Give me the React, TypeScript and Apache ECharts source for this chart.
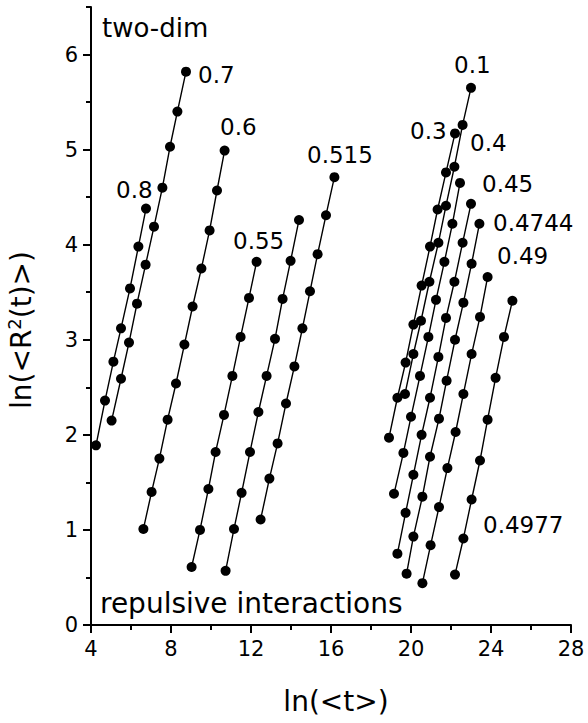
import React, { useEffect, useRef } from "react";
import * as echarts from "echarts";

// ---- data ----
const xTicks = [4, 8, 12, 16, 20, 24, 28];
const yTicks = [0, 1, 2, 3, 4, 5, 6];
const yMinorTicks = [0.5, 1.5, 2.5, 3.5, 4.5, 5.5, 6.5];

const s08X = [4.25, 4.7, 5.12, 5.5, 5.95, 6.37, 6.75];
const s08Y = [1.89, 2.36, 2.77, 3.12, 3.54, 3.98, 4.38];

const s07X = [5.03, 5.5, 5.9, 6.3, 6.73, 7.15, 7.57, 7.95, 8.32, 8.75];
const s07Y = [2.15, 2.59, 2.97, 3.38, 3.79, 4.19, 4.6, 5.03, 5.4, 5.82];

const s06X = [6.62, 7.03, 7.42, 7.83, 8.25, 8.67, 9.08, 9.52, 9.93, 10.3, 10.68];
const s06Y = [1.01, 1.4, 1.75, 2.16, 2.54, 2.95, 3.35, 3.75, 4.15, 4.57, 4.99];

const s055X = [9.03, 9.45, 9.87, 10.23, 10.65, 11.07, 11.48, 11.9, 12.28];
const s055Y = [0.61, 1.0, 1.43, 1.82, 2.21, 2.62, 3.03, 3.44, 3.82];

const sMidX = [10.73, 11.15, 11.53, 11.95, 12.37, 12.78, 13.2, 13.58, 13.98, 14.4];
const sMidY = [0.57, 1.01, 1.39, 1.82, 2.24, 2.62, 3.01, 3.43, 3.83, 4.26];

const s0515X = [12.48, 12.92, 13.33, 13.75, 14.17, 14.57, 14.95, 15.33, 15.75, 16.17];
const s0515Y = [1.11, 1.54, 1.91, 2.33, 2.72, 3.12, 3.51, 3.9, 4.31, 4.71];

const s01X = [19.7, 20.12, 20.5, 20.92, 21.37, 21.75, 22.17, 22.58, 23.0];
const s01Y = [2.43, 2.85, 3.2, 3.61, 4.02, 4.41, 4.82, 5.26, 5.65];

const s03X = [18.9, 19.32, 19.73, 20.12, 20.53, 20.95, 21.33, 21.75, 22.2];
const s03Y = [1.97, 2.39, 2.76, 3.16, 3.57, 3.98, 4.37, 4.76, 5.17];

const s04X = [19.15, 19.62, 20.0, 20.45, 20.87, 21.25, 21.67, 22.07, 22.45];
const s04Y = [1.38, 1.81, 2.19, 2.62, 3.03, 3.42, 3.82, 4.22, 4.65];

const s045X = [19.32, 19.73, 20.12, 20.53, 20.95, 21.37, 21.75, 22.17, 22.58, 23.0];
const s045Y = [0.75, 1.18, 1.58, 2.0, 2.39, 2.82, 3.23, 3.61, 4.02, 4.43];

const s04744X = [19.78, 20.12, 20.57, 20.95, 21.4, 21.78, 22.2, 22.62, 23.03, 23.42];
const s04744Y = [0.54, 0.93, 1.35, 1.77, 2.17, 2.57, 3.0, 3.39, 3.8, 4.22];

const s049X = [20.57, 20.98, 21.4, 21.82, 22.23, 22.62, 23.03, 23.45, 23.83];
const s049Y = [0.44, 0.84, 1.24, 1.65, 2.03, 2.43, 2.85, 3.24, 3.66];

const s04977X = [22.2, 22.62, 23.03, 23.45, 23.83, 24.23, 24.65, 25.07];
const s04977Y = [0.53, 0.91, 1.32, 1.73, 2.16, 2.6, 3.03, 3.41];

const seriesNames = ["0.8", "0.7", "0.6", "0.55", "(unlabeled)", "0.515", "0.1", "0.3", "0.4", "0.45", "0.4744", "0.49", "0.4977"];
const seriesXs = [s08X, s07X, s06X, s055X, sMidX, s0515X, s01X, s03X, s04X, s045X, s04744X, s049X, s04977X];
const seriesYs = [s08Y, s07Y, s06Y, s055Y, sMidY, s0515Y, s01Y, s03Y, s04Y, s045Y, s04744Y, s049Y, s04977Y];

const FONT = "'DejaVu Sans', 'Liberation Sans', Arial, sans-serif";

// annotation labels: [text, left px, baseline px]
const annotations: [string, number, number][] = [
  ["0.7", 198, 83],
  ["0.6", 220, 135],
  ["0.8", 116, 198],
  ["0.55", 233, 249],
  ["0.515", 307, 163],
  ["0.1", 454, 73],
  ["0.3", 410, 139],
  ["0.4", 470, 151],
  ["0.45", 482, 192],
  ["0.4744", 493, 231],
  ["0.49", 497, 264],
  ["0.4977", 483, 533],
];

export default function App() {
  const ref = useRef<HTMLDivElement>(null);
  useEffect(() => {
    if (!ref.current) return;
    const chart = echarts.init(ref.current, undefined, { renderer: "svg" });
    const annFs = 23;
    const mid = (baseline: number, fs: number) => baseline - 0.35 * fs;
    const graphics: any[] = annotations.map(([t, x, b]) => ({
      type: "text",
      style: {
        text: t,
        x,
        y: mid(b, annFs),
        font: `${annFs}px ${FONT}`,
        fill: "#000",
        textAlign: "left",
        textVerticalAlign: "middle",
      },
    }));
    graphics.push({
      type: "text",
      style: { text: "two-dim", x: 102, y: mid(37, 26), font: `26px ${FONT}`, fill: "#000", textAlign: "left", textVerticalAlign: "middle" },
    });
    graphics.push({
      type: "text",
      style: { text: "repulsive interactions", x: 100, y: mid(613, 28), font: `28px ${FONT}`, fill: "#000", textAlign: "left", textVerticalAlign: "middle" },
    });
    graphics.push({
      type: "text",
      style: { text: "ln(<t>)", x: 336, y: mid(711, 28), font: `28px ${FONT}`, fill: "#000", textAlign: "center", textVerticalAlign: "middle" },
    });
    graphics.push({
      type: "text",
      x: 21,
      y: 330,
      rotation: Math.PI / 2,
      style: {
        text: "{a|ln(<R}{s|2}{a|(t)>)}",
        x: 0,
        y: 0,
        fill: "#000",
        textAlign: "center",
        textVerticalAlign: "middle",
        rich: {
          a: { fontSize: 28, fontFamily: FONT, lineHeight: 32, fill: "#000" },
          s: { fontSize: 18, fontFamily: FONT, lineHeight: 22, verticalAlign: "top", fill: "#000" },
        },
      },
    });

    const axisCommon = {
      type: "value" as const,
      axisLine: { show: true, onZero: false, lineStyle: { color: "#000", width: 2 } },
      splitLine: { show: false },
    };

    const option: any = {
      animation: false,
      backgroundColor: "#fff",
      grid: { left: 91, right: 17, top: 7, bottom: 98, containLabel: false, outerBoundsMode: "none" },
      xAxis: {
        ...axisCommon,
        min: 4,
        max: 28,
        interval: 4,
        axisTick: { show: true, length: 8, inside: false, lineStyle: { color: "#000", width: 2 } },
        minorTick: { show: true, splitNumber: 2, length: 5, lineStyle: { color: "#000", width: 2 } },
        axisLabel: { color: "#000", fontSize: 21, fontFamily: FONT, margin: 13, customValues: xTicks },
      },
      yAxis: [
        {
          ...axisCommon,
          min: 0,
          max: 6.5,
          interval: 1,
          axisTick: { show: true, length: 8, lineStyle: { color: "#000", width: 2 }, customValues: yTicks },
          axisLabel: { color: "#000", fontSize: 21, fontFamily: FONT, margin: 13, customValues: yTicks },
        },
        {
          type: "value",
          min: 0,
          max: 6.5,
          position: "left",
          axisLine: { show: false },
          splitLine: { show: false },
          axisLabel: { show: false },
          axisTick: { show: true, length: 5, lineStyle: { color: "#000", width: 2 }, customValues: yMinorTicks },
        },
      ],
      graphic: graphics,
      series: seriesNames.map((name, i) => ({
        name,
        type: "line",
        xAxisIndex: 0,
        yAxisIndex: 0,
        data: seriesXs[i].map((x, j) => [x, seriesYs[i][j]]),
        symbol: "circle",
        symbolSize: 10,
        showSymbol: true,
        itemStyle: { color: "#000" },
        lineStyle: { color: "#000", width: 1.4 },
        z: 3,
      })),
    };
    chart.setOption(option);
    return () => chart.dispose();
  }, []);
  return (
    <div
      ref={ref}
      style={{ position: "fixed", left: 0, top: 0, width: 588, height: 723, background: "#fff" }}
    />
  );
}
